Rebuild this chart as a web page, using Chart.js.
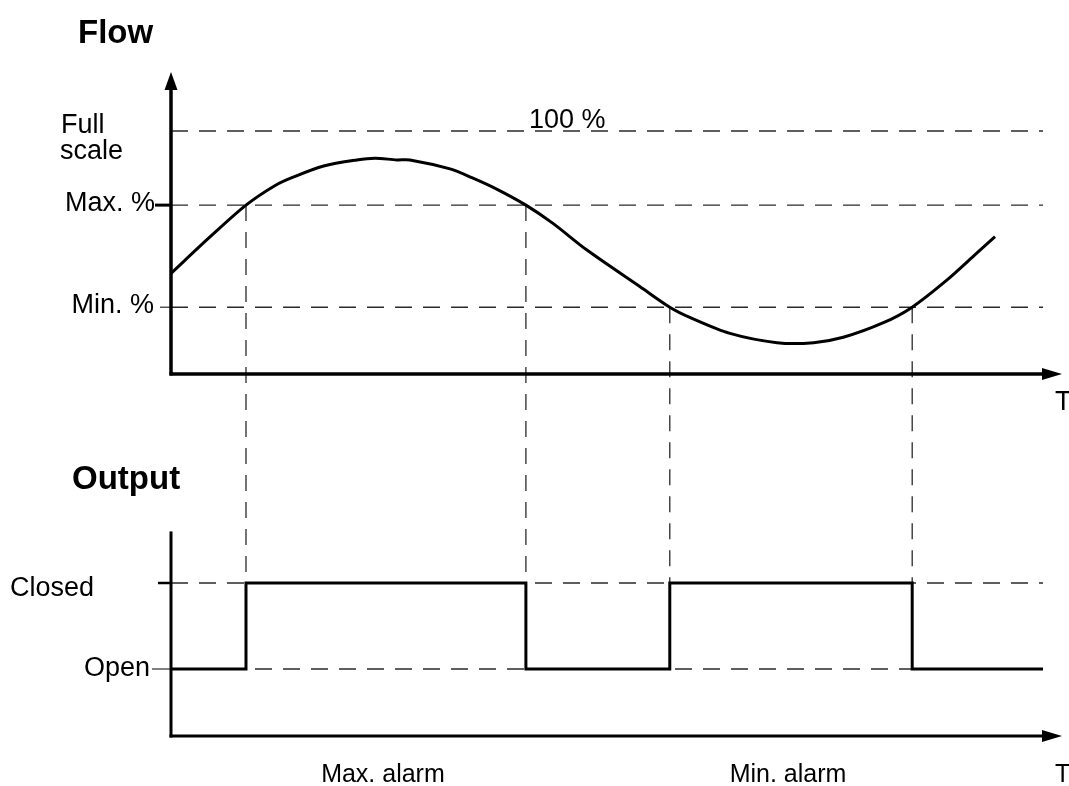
<!DOCTYPE html>
<html>
<head>
<meta charset="utf-8">
<title>Flow alarm output</title>
<script src="https://cdn.jsdelivr.net/npm/chart.js@4.4.1/dist/chart.umd.min.js"></script>
<style>
  html, body { margin: 0; padding: 0; background: #fff; }
  canvas { display: block; }
</style>
</head>
<body>
<canvas id="mycanvas" width="1069" height="786"></canvas>
<script>
// time runs 0..100 (no units on the T axis)
const timeT = [0, 4.5, 8.6, 11.9, 14.0, 17.5, 21.3, 23.4, 25.9, 27.4, 32.0, 34.5, 37.4, 40.7,
  43.8, 47.7, 53.8, 57.2, 59.5, 64.1, 69.5, 73.7, 77.1, 81.7, 85.0, 89.0, 92.4, 94.5]
// flow in % of full scale
const flowPct = [41.4, 56.5, 69.5, 77.5, 81.0, 85.6, 88.1, 88.8, 88.1, 88.1, 84.4, 80.8, 76.0, 69.5,
  62.0, 51.0, 35.9, 27.5, 23.3, 16.7, 12.9, 12.9, 15.1, 21.1, 27.5, 38.7, 49.7, 56.5]

const FULL_SCALE = 100
const MAX_PCT = 69.5
const MIN_PCT = 27.5

// relay output: 0 = Open, 1 = Closed
const switchT = [0, 8.6, 40.7, 57.2, 85.0, 100]
const outputState = [0, 1, 0, 1, 0, 0]
const outputLabels = ["Open", "Closed"]

// where the flow crosses a limit and the relay switches
const crossingT = [8.6, 40.7, 57.2, 85.0]
const crossingLevel = [MAX_PCT, MAX_PCT, MIN_PCT, MIN_PCT]

const alarmNames = ["Max. alarm", "Min. alarm"]
const alarmSpans = [[8.6, 40.7], [57.2, 85.0]]

// page geometry (pixels)
var area = { left: 171, right: 1043, top: 72, bottom: 736 }
var flowZeroY = 374, flowFullY = 131
var openY = 669, closedY = 583

var flowPx = (flowZeroY - flowFullY) / FULL_SCALE
var flowMax = FULL_SCALE + (flowFullY - area.top) / flowPx
var flowMin = -(area.bottom - flowZeroY) / flowPx
var outPx = openY - closedY
var outMax = 1 + (closedY - area.top) / outPx
var outMin = -(area.bottom - openY) / outPx

var FONT = '"Liberation Sans", Arial, Helvetica, sans-serif'
var DASH = [17, 11]
var DASH_COLOR = '#2a2a2a'

function refLine(value, axis) {
  return {
    data: [{ x: 0, y: value }, { x: 100, y: value }],
    yAxisID: axis,
    borderColor: DASH_COLOR,
    borderWidth: 1.4,
    borderDash: DASH,
    pointRadius: 0,
    fill: false
  }
}

function arrow(ctx, x1, y1, x2, y2, len, half) {
  var a = Math.atan2(y2 - y1, x2 - x1)
  var bx = x2 - Math.cos(a) * len, by = y2 - Math.sin(a) * len
  ctx.beginPath()
  ctx.moveTo(x1, y1)
  ctx.lineTo(bx + Math.cos(a) * 2, by + Math.sin(a) * 2)
  ctx.stroke()
  ctx.beginPath()
  ctx.moveTo(x2, y2)
  ctx.lineTo(bx - Math.sin(a) * half, by + Math.cos(a) * half)
  ctx.lineTo(bx + Math.sin(a) * half, by - Math.cos(a) * half)
  ctx.closePath()
  ctx.fill()
}

function tick(ctx, x0, y, len, w) {
  ctx.lineWidth = w
  ctx.beginPath()
  ctx.moveTo(x0 - len, y)
  ctx.lineTo(x0, y)
  ctx.stroke()
}

var diagram = {
  id: 'diagram',
  beforeDatasetsDraw: function(chart) {
    var ctx = chart.ctx
    var xs = chart.scales.x, yf = chart.scales.yFlow, yo = chart.scales.yOut
    ctx.save()
    ctx.strokeStyle = DASH_COLOR
    ctx.lineWidth = 1.3
    ctx.setLineDash([16, 11])
    crossingT.forEach(function(t, i) {
      var x = xs.getPixelForValue(t)
      ctx.beginPath()
      ctx.moveTo(x, yf.getPixelForValue(crossingLevel[i]))
      ctx.lineTo(x, yo.getPixelForValue(1))
      ctx.stroke()
    })
    ctx.restore()
  },
  afterDatasetsDraw: function(chart) {
    var ctx = chart.ctx
    var xs = chart.scales.x, yf = chart.scales.yFlow, yo = chart.scales.yOut
    var x0 = xs.getPixelForValue(0)
    var tipX = xs.right + 19
    var y0 = yf.getPixelForValue(0)
    var yb = chart.chartArea.bottom
    ctx.save()
    ctx.strokeStyle = '#000'
    ctx.fillStyle = '#000'
    ctx.lineCap = 'butt'

    // flow axes
    ctx.lineWidth = 3.5
    arrow(ctx, x0, y0 + 1.5, x0, chart.chartArea.top, 18, 6.5)
    arrow(ctx, x0 - 1.5, y0, tipX, y0, 20, 6)
    // output axes
    ctx.lineWidth = 3
    ctx.beginPath()
    ctx.moveTo(x0, yo.getPixelForValue(1.6))
    ctx.lineTo(x0, yb + 1.5)
    ctx.stroke()
    arrow(ctx, x0 - 1.5, yb, tipX, yb, 20, 6)

    // small marks at the labelled levels
    tick(ctx, x0, yf.getPixelForValue(MAX_PCT), 16, 3)
    tick(ctx, x0, yf.getPixelForValue(MIN_PCT), 11, 1)
    tick(ctx, x0, yo.getPixelForValue(1), 13, 2.5)
    tick(ctx, x0, yo.getPixelForValue(0), 19, 1)

    // titles
    ctx.textBaseline = 'alphabetic'
    ctx.font = 'bold 33px ' + FONT
    ctx.textAlign = 'left'
    ctx.fillText('Flow', 78, 43)
    ctx.fillText('Output', 72, 489)

    ctx.font = '27px ' + FONT
    ctx.fillText('Full', 61, 133)
    ctx.fillText('scale', 60, 159)
    ctx.fillText('100 %', 529, yf.getPixelForValue(FULL_SCALE) - 3)
    ctx.fillText('T', 1055, y0 + 36)
    ctx.fillText(outputLabels[1], 10, yo.getPixelForValue(1) + 13)
    ctx.textAlign = 'right'
    ctx.fillText('Max. %', 155, yf.getPixelForValue(MAX_PCT) + 6)
    ctx.fillText('Min. %', 154, yf.getPixelForValue(MIN_PCT) + 6)
    ctx.fillText(outputLabels[0], 150, yo.getPixelForValue(0) + 7)

    ctx.font = '25px ' + FONT
    ctx.textAlign = 'center'
    alarmSpans.forEach(function(s, i) {
      ctx.fillText(alarmNames[i], xs.getPixelForValue((s[0] + s[1]) / 2) - 3, 782)
    })
    ctx.textAlign = 'left'
    ctx.fillText('T', 1055, 782)
    ctx.restore()
  }
}

const ctx = document.getElementById('mycanvas').getContext('2d')
window.chart = new Chart(ctx, {
  type: 'line',
  data: {
    datasets: [
      {
        data: timeT.map((t, i) => ({ x: t, y: flowPct[i] })),
        yAxisID: 'yFlow',
        borderColor: '#000',
        borderWidth: 3,
        pointRadius: 0,
        tension: 0.3,
        fill: false
      },
      {
        data: switchT.map((t, i) => ({ x: t, y: outputState[i] })),
        yAxisID: 'yOut',
        borderColor: '#000',
        borderWidth: 3,
        stepped: 'before',
        pointRadius: 0,
        fill: false
      },
      refLine(FULL_SCALE, 'yFlow'),
      refLine(MAX_PCT, 'yFlow'),
      refLine(MIN_PCT, 'yFlow'),
      refLine(1, 'yOut'),
      refLine(0, 'yOut')
    ]
  },
  options: {
    responsive: false,
    animation: false,
    layout: {
      padding: { left: area.left, right: 1069 - area.right, top: area.top, bottom: 786 - area.bottom }
    },
    plugins: { legend: { display: false }, tooltip: { enabled: false } },
    scales: {
      x: { type: 'linear', min: 0, max: 100, display: false },
      yFlow: { type: 'linear', position: 'left', min: flowMin, max: flowMax, display: false },
      yOut: { type: 'linear', position: 'left', min: outMin, max: outMax, display: false }
    }
  },
  plugins: [diagram]
})
</script>
</body>
</html>
